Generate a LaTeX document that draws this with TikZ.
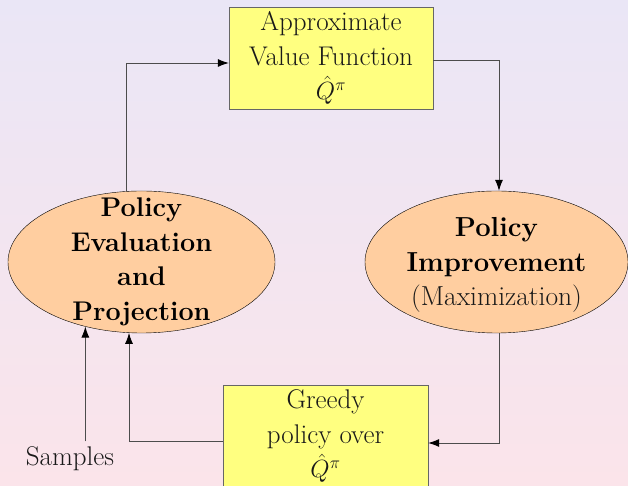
\documentclass[tikz,border=0pt]{standalone}
\usepackage{tikz}
\usetikzlibrary{shapes.geometric,arrows.meta}
\definecolor{boxyellow}{RGB}{255,255,128}
\definecolor{ellpeach}{RGB}{255,206,160}
\definecolor{bgtop}{RGB}{234,230,246}
\definecolor{bgbottom}{RGB}{251,228,234}
\tikzset{
    valuebox/.style={rectangle,draw=black!60,fill=boxyellow,text=black!90,
        minimum width=204pt,minimum height=102pt,align=center,inner sep=0pt},
    stepell/.style={ellipse,draw=black,fill=ellpeach,inner sep=0pt},
    steptext/.style={align=center,inner sep=0pt},
    flow/.style={-{Latex[length=11pt,width=8pt,black]},draw=black!70,line width=0.8pt}
}

\begin{document}
\begin{tikzpicture}[x=1pt,y=1pt,font=\fontsize{27}{34.5}\selectfont]
  % Draw background
  \shade[top color=bgtop,bottom color=bgbottom] (0,0) rectangle (628,486);
  \useasboundingbox (0,0) rectangle (628,486);
  % Draw boxes
  \node (approx) [valuebox] at (331,428)
        {Approximate\\Value Function\\$\hat{Q}^{\pi}$};
  \node (greedy) [valuebox,minimum width=205pt] at (325.5,50)
        {Greedy\\policy over\\$\hat{Q}^{\pi}$};
  % Draw ellipses
  \node (evalproj) [stepell,minimum width=267pt,minimum height=142pt] at (141.5,224) {};
  \node (evaltext) [steptext] at (evalproj)
        {\bfseries Policy\\\bfseries Evaluation\\\bfseries and\\\bfseries Projection};
  \node (improve) [stepell,minimum width=263pt,minimum height=142pt] at (496.5,224) {};
  \node (improvetext) [steptext,font=\fontsize{27.5}{34.5}\selectfont]
        at ([yshift=-3pt]improve.center)
        {\bfseries Policy\\\bfseries Improvement\\\textcolor{black!90}{(Maximization)}};
  % Draw label
  \node (samples) [text=black!90] at (70,27) {Samples};
  % Draw arrows
  \draw[flow] (evalproj.102) |- ([yshift=-5pt]approx.west);
  \draw[flow] ([yshift=-2pt]approx.east) -| (improve.88);
  \draw[flow] (improve.272) |- ([yshift=-7pt]greedy.east);
  \draw[flow] ([yshift=-5pt]greedy.west) -| (evalproj.260);
  \draw[flow] ([yshift=2pt]samples.north -| evalproj.229) -- (evalproj.229);
\end{tikzpicture}
\end{document}
